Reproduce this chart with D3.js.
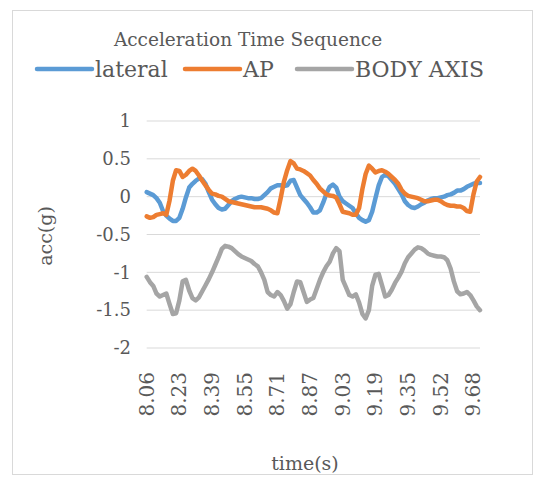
<!DOCTYPE html>
<html>
<head>
<meta charset="utf-8">
<script src="https://cdn.jsdelivr.net/npm/d3@7"></script>
<style>
  html, body { margin: 0; padding: 0; background: #fff; }
  text { font-family: "DejaVu Serif", "Liberation Serif", serif; fill: #595959; }
</style>
</head>
<body>
<script>
// time (s), one sample every 1/62 s
const times = [
  8.06, 8.08, 8.10, 8.11, 8.13, 8.15, 8.16, 8.18, 8.19, 8.21,
  8.23, 8.24, 8.26, 8.27, 8.29, 8.31, 8.32, 8.34, 8.35, 8.37,
  8.39, 8.40, 8.42, 8.44, 8.45, 8.47, 8.48, 8.50, 8.52, 8.53,
  8.55, 8.56, 8.58, 8.60, 8.61, 8.63, 8.65, 8.66, 8.68, 8.69,
  8.71, 8.73, 8.74, 8.76, 8.77, 8.79, 8.81, 8.82, 8.84, 8.85,
  8.87, 8.89, 8.90, 8.92, 8.94, 8.95, 8.97, 8.98, 9.00, 9.02,
  9.03, 9.05, 9.06, 9.08, 9.10, 9.11, 9.13, 9.15, 9.16, 9.18,
  9.19, 9.21, 9.23, 9.24, 9.26, 9.27, 9.29, 9.31, 9.32, 9.34,
  9.35, 9.37, 9.39, 9.40, 9.42, 9.44, 9.45, 9.47, 9.48, 9.50,
  9.52, 9.53, 9.55, 9.56, 9.58, 9.60, 9.61, 9.63, 9.65, 9.66,
  9.68, 9.69, 9.71
];

const lateral = [
  0.06, 0.04, 0.02, -0.02, -0.08, -0.19, -0.25, -0.29, -0.32, -0.32,
  -0.28, -0.16, -0.01, 0.12, 0.17, 0.21, 0.24, 0.23, 0.17, 0.06,
  -0.04, -0.10, -0.15, -0.17, -0.16, -0.11, -0.06, -0.03, -0.01, 0.00,
  -0.01, -0.02, -0.02, -0.03, -0.03, -0.02, 0.02, 0.06, 0.11, 0.13,
  0.15, 0.15, 0.14, 0.15, 0.21, 0.22, 0.12, 0.02, -0.03, -0.08,
  -0.14, -0.21, -0.21, -0.18, -0.08, 0.04, 0.13, 0.16, 0.12, 0.00,
  -0.06, -0.09, -0.12, -0.15, -0.22, -0.28, -0.31, -0.33, -0.31, -0.20,
  -0.02, 0.15, 0.26, 0.29, 0.27, 0.22, 0.17, 0.10, 0.03, -0.06,
  -0.11, -0.14, -0.15, -0.13, -0.10, -0.08, -0.05, -0.03, -0.02, -0.02,
  -0.01, 0.00, 0.02, 0.03, 0.05, 0.08, 0.08, 0.10, 0.13, 0.15,
  0.17, 0.18, 0.18
];

const ap = [
  -0.26, -0.28, -0.27, -0.24, -0.23, -0.22, -0.24, -0.05, 0.21, 0.35,
  0.34, 0.26, 0.29, 0.34, 0.37, 0.34, 0.28, 0.21, 0.15, 0.09,
  0.04, 0.03, 0.01, 0.00, -0.03, -0.06, -0.07, -0.08, -0.09, -0.10,
  -0.11, -0.12, -0.13, -0.14, -0.14, -0.14, -0.15, -0.16, -0.18, -0.21,
  -0.22, -0.02, 0.20, 0.35, 0.47, 0.44, 0.37, 0.36, 0.34, 0.31,
  0.28, 0.22, 0.17, 0.11, 0.07, 0.03, 0.015, 0.01, -0.01, -0.10,
  -0.20, -0.21, -0.22, -0.24, -0.24, -0.15, 0.10, 0.30, 0.41, 0.37,
  0.32, 0.34, 0.35, 0.33, 0.30, 0.26, 0.22, 0.17, 0.09, 0.04,
  0.01, 0.00, -0.01, -0.02, -0.04, -0.06, -0.06, -0.05, -0.04, -0.04,
  -0.06, -0.09, -0.11, -0.12, -0.12, -0.13, -0.13, -0.15, -0.19, -0.20,
  0.03, 0.20, 0.26
];

const bodyAxis = [
  -1.06, -1.13, -1.18, -1.28, -1.32, -1.30, -1.28, -1.42, -1.55, -1.54,
  -1.37, -1.12, -1.10, -1.24, -1.34, -1.37, -1.33, -1.25, -1.17, -1.09,
  -1.00, -0.90, -0.80, -0.69, -0.65, -0.66, -0.68, -0.72, -0.76, -0.79,
  -0.81, -0.83, -0.85, -0.89, -0.92, -1.00, -1.10, -1.26, -1.30, -1.32,
  -1.26, -1.30, -1.38, -1.48, -1.42, -1.26, -1.12, -1.13, -1.26, -1.39,
  -1.36, -1.34, -1.22, -1.10, -1.00, -0.92, -0.86, -0.75, -0.68, -0.72,
  -1.10, -1.20, -1.30, -1.32, -1.29, -1.40, -1.55, -1.61, -1.50, -1.18,
  -1.03, -1.02, -1.17, -1.32, -1.30, -1.23, -1.14, -1.07, -0.99, -0.88,
  -0.80, -0.75, -0.70, -0.67, -0.68, -0.71, -0.75, -0.77, -0.78, -0.79,
  -0.79, -0.80, -0.84, -0.95, -1.12, -1.25, -1.29, -1.28, -1.26, -1.30,
  -1.37, -1.45, -1.50
];

const yTicks = [1, 0.5, 0, -0.5, -1, -1.5, -2];

const series = [
  { name: "lateral", values: lateral, color: "#5B9BD5" },
  { name: "AP", values: ap, color: "#ED7D31" },
  { name: "BODY AXIS", values: bodyAxis, color: "#A5A5A5" }
];

const width = 545, height = 480;
const svg = d3.select("body").append("svg")
  .attr("width", width)
  .attr("height", height);

// chart border
svg.append("rect")
  .attr("x", 12.5).attr("y", 10.5)
  .attr("width", 520).attr("height", 464)
  .attr("fill", "#fff")
  .attr("stroke", "#d9d9d9");

const x = d3.scalePoint()
  .domain(d3.range(times.length))
  .range([146.7, 480]);

const y = d3.scaleLinear()
  .domain([-2, 1])
  .range([348, 121]);

// gridlines
svg.append("g")
  .selectAll("line")
  .data(yTicks)
  .join("line")
  .attr("x1", 146.7).attr("x2", 480)
  .attr("y1", d => y(d)).attr("y2", d => y(d))
  .attr("stroke", "#d9d9d9")
  .attr("stroke-width", 1);

// y tick labels (plain hyphen like the original)
svg.append("g")
  .selectAll("text")
  .data(yTicks)
  .join("text")
  .attr("x", 131)
  .attr("y", d => y(d))
  .attr("dy", "0.35em")
  .attr("text-anchor", "end")
  .style("font-size", "18px")
  .text(d => String(d));

// x tick labels, every 10th sample
const xTickIdx = d3.range(0, times.length, 10);
svg.append("g")
  .selectAll("text")
  .data(xTickIdx)
  .join("text")
  .attr("transform", i => `translate(${x(i)},372) rotate(-90)`)
  .attr("dy", "0.35em")
  .attr("text-anchor", "end")
  .style("font-size", "20px")
  .text(i => times[i].toFixed(2));

// lines
const line = d3.line()
  .x((d, i) => x(i))
  .y(d => y(d));

svg.append("g")
  .selectAll("path")
  .data(series)
  .join("path")
  .attr("d", d => line(d.values))
  .attr("fill", "none")
  .attr("stroke", d => d.color)
  .attr("stroke-width", 4.5)
  .attr("stroke-linejoin", "round")
  .attr("stroke-linecap", "round");

// title
svg.append("text")
  .attr("x", 248).attr("y", 46)
  .attr("text-anchor", "middle")
  .style("font-size", "18.5px")
  .text("Acceleration Time Sequence");

// legend
const legendX = [37, 185, 297];
const legend = svg.append("g")
  .selectAll("g")
  .data(series)
  .join("g")
  .attr("transform", (d, i) => `translate(${legendX[i]},69)`);

legend.append("line")
  .attr("x1", 0).attr("x2", 55)
  .attr("stroke", d => d.color)
  .attr("stroke-width", 4.5)
  .attr("stroke-linecap", "round");

legend.append("text")
  .attr("x", 58)
  .attr("dy", "0.35em")
  .style("font-size", "22px")
  .text(d => d.name);

// axis titles
svg.append("text")
  .attr("transform", "translate(45,236) rotate(-90)")
  .attr("text-anchor", "middle")
  .attr("dy", "0.35em")
  .style("font-size", "19px")
  .text("acc(g)");

svg.append("text")
  .attr("x", 305).attr("y", 470)
  .attr("text-anchor", "middle")
  .style("font-size", "19px")
  .text("time(s)");
</script>
</body>
</html>
